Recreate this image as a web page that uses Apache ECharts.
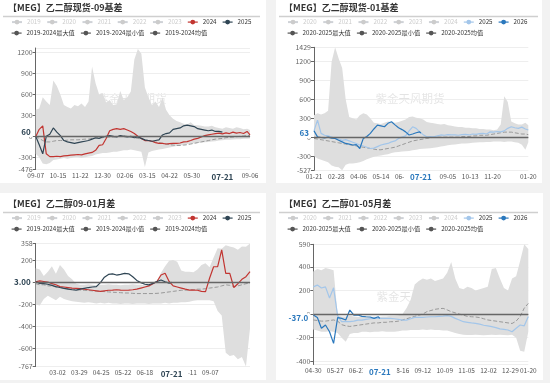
<!DOCTYPE html>
<html><head><meta charset="utf-8">
<script src="https://cdn.jsdelivr.net/npm/echarts@6.0.0/dist/echarts.min.js"></script>
<style>
html,body{margin:0;padding:0;background:#f2f2f2;width:550px;height:383px;overflow:hidden}
.p{position:absolute;background:#fff}
</style></head><body>
<div id="c1" class="p" style="left:0;top:-3px;width:266px;height:186px"></div>
<div id="c2" class="p" style="left:276px;top:-3px;width:266px;height:186px"></div>
<div id="c3" class="p" style="left:0;top:193px;width:266px;height:187px"></div>
<div id="c4" class="p" style="left:276px;top:193px;width:267px;height:187px"></div>
<script>
// ---------- DATA ----------
// Panel 1: 乙二醇现货-09基差 (step 6 days from 09-07)
const tlTitle = '【MEG】乙二醇现货-09基差';
const tlYears = ['2019','2020','2021','2022','2023','2024','2025'];
const tlStats = ['2019-2024最大值','2019-2024最小值','2019-2024均值'];
const tlXLabels = ['09-07','10-15','11-22','12-30','02-06','03-15','04-22','05-30','09-06'];
const tlMax = [380,400,560,500,450,800,720,600,450,420,400,450,430,470,420,500,1000,760,600,620,480,520,450,460,650,520,560,640,1100,1250,1180,700,560,450,500,420,560,380,300,250,220,200,180,170,200,160,160,150,140,140,150,130,120,110,130,120,110,130,120,100,110,90];
const tlMin = [-250,-300,-390,-400,-380,-340,-330,-320,-310,-320,-310,-300,-300,-310,-300,-290,-280,-260,-250,-240,-240,-230,-220,-220,-210,-200,-200,-190,-200,-210,-220,-440,-230,-210,-200,-190,-180,-170,-160,-150,-140,-130,-120,-110,-105,-100,-95,-90,-85,-80,-75,-70,-60,-55,-50,-50,-45,-40,-40,-35,-35,-30];
const tlMean = [0,-30,-60,-80,-80,-70,-60,-60,-60,-55,-50,-50,-50,-45,-40,-40,-30,-30,-20,-20,-10,-10,-10,0,0,10,0,-10,-20,-30,-40,-50,-60,-70,-80,-90,-100,-110,-120,-125,-130,-130,-125,-120,-110,-100,-90,-80,-70,-60,-50,-40,-35,-30,-20,-15,-10,-5,0,5,10,10];
const tl2024 = [-5,100,150,-250,-290,-290,-285,-290,-280,-275,-270,-265,-260,-265,-250,-240,-230,-200,-130,-120,-30,80,100,110,100,110,90,70,40,0,-30,-60,-60,-70,-90,-100,-100,-110,-105,-100,-100,-95,-80,-75,-60,-40,-30,-10,10,20,30,40,45,35,50,40,60,45,55,40,70,20];
const tl2025 = [0,-120,-250,0,30,120,60,10,-60,-80,-90,-100,-90,-80,-70,-60,-40,-20,-30,-10,0,10,0,-10,10,0,-10,0,-20,-10,-30,-50,-60,-70,-60,-50,20,40,50,100,110,120,150,160,150,140,110,100,90,80,90,70,70,60];

// Panel 2: 乙二醇现货-01基差 (step 6 days from 01-21)
const trTitle = '【MEG】乙二醇现货-01基差';
const trYears = ['2020','2021','2022','2023','2024','2025','2026'];
const trStats = ['2020-2025最大值','2020-2025最小值','2020-2025均值'];
const trXLabels = ['01-21','02-28','04-06','05-14','06-21','09-05','10-13','11-20','01-20'];
const trMax = [350,380,360,380,420,1200,1429,1250,1100,600,320,300,280,350,380,360,300,230,220,210,230,250,240,230,240,260,280,320,330,310,300,280,240,230,220,210,200,210,190,180,170,160,160,150,150,140,140,130,130,120,120,110,120,200,650,560,250,220,200,200,230,190];
const trMin = [-300,-340,-360,-380,-400,-450,-470,-480,-527,-440,-420,-420,-410,-400,-380,-350,-330,-310,-300,-290,-280,-270,-250,-240,-235,-230,-225,-220,-210,-200,-190,-185,-180,-175,-170,-160,-150,-140,-130,-120,-115,-110,-100,-100,-95,-90,-85,-80,-80,-75,-75,-70,-70,-70,-75,-70,-70,-80,-90,-120,-200,-80];
const trMean = [-20,-30,-40,-50,-60,-70,-80,-90,-100,-110,-120,-130,-140,-150,-160,-170,-180,-190,-200,-200,-190,-180,-170,-160,-140,-120,-100,-80,-60,-50,-40,-30,-20,-10,0,0,0,0,0,0,0,0,10,10,10,20,20,30,30,30,40,50,60,70,80,80,80,70,60,50,50,40];
const tr2025 = [100,270,60,30,20,0,-20,-30,-50,-40,-60,-80,-100,-125,-140,-160,-180,-175,-150,-125,-110,-100,-75,-60,-20,0,20,100,165,140,84,40,5,10,5,20,35,30,40,35,35,30,40,45,35,50,45,55,60,50,84,80,90,84,100,140,165,150,140,160,130,113];
const tr2026 = [100,5,-5,-10,0,-15,-20,-50,-75,-100,-110,-125,-120,-180,-20,10,60,130,190,180,165,220,245,195,150,120,84,35,50,70,84,63];

// Panel 3: 乙二醇09-01月差 (step 5 days from 02-03)
const blTitle = '【MEG】乙二醇09-01月差';
const blYears = ['2019','2020','2021','2022','2023','2024','2025'];
const blStats = ['2019-2024最大值','2019-2024最小值','2019-2024均值'];
const blXLabels = ['03-02','03-29','04-25','05-22','06-18','08-11','09-07'];
const blMax = [130,120,60,100,150,80,160,120,60,30,-10,-20,-20,-15,-20,-25,-20,-20,-15,-20,-20,-25,-20,-20,-15,-20,-20,-25,-20,0,20,90,150,200,206,190,110,100,100,95,120,160,176,140,230,313,310,340,330,320,300,330,328,358];
const blMin = [-200,-210,-150,-120,-140,-160,-130,-150,-160,-170,-175,-180,-185,-180,-185,-190,-185,-190,-185,-190,-190,-195,-190,-190,-195,-190,-190,-190,-195,-190,-190,-190,-185,-190,-185,-185,-180,-180,-175,-165,-160,-160,-160,-160,-170,-260,-300,-640,-670,-660,-700,-680,-767,-420];
const blMean = [-10,-20,-20,-30,-30,-40,-45,-50,-55,-60,-65,-68,-70,-72,-75,-78,-80,-82,-85,-88,-90,-92,-95,-95,-98,-100,-100,-100,-100,-100,-98,-95,-90,-85,-80,-75,-70,-70,-65,-65,-60,-60,-55,-50,-45,-40,-30,-20,-25,-35,-30,-20,-10,-5];
const bl2024 = [8,15,10,5,-10,-20,-37,-40,-45,-50,-52,-55,-60,-65,-70,-75,-80,-75,-70,-68,-65,-68,-70,-68,-65,-60,-50,-40,-30,-10,10,69,85,10,-30,-40,-50,-60,-68,-68,-70,-80,-83,40,145,145,298,85,85,-45,-10,30,54,100];
const bl2025 = [8,-7,-10,-15,-25,-37,-45,-52,-60,-65,-68,-60,-52,-45,-40,-37,0,50,75,80,69,75,85,80,54,20,0,-15,-20,-7,10,24,8,-5,3];

// Panel 4: 乙二醇01-05月差 (step 5 days from 04-30)
const brTitle = '【MEG】乙二醇01-05月差';
const brYears = ['2020','2021','2022','2023','2024','2025','2026'];
const brStats = ['2020-2025最大值','2020-2025最小值','2020-2025均值'];
const brXLabels = ['04-30','05-27','06-23','08-16','09-12','10-09','11-05','12-02','12-29','01-20'];
const brMax = [360,380,370,390,380,370,-10,-20,-20,-15,-20,-25,-20,-20,-25,-20,-25,-20,-20,-15,-15,-10,0,50,120,250,280,300,290,300,280,290,300,350,440,300,220,210,230,220,200,210,220,230,380,390,300,220,200,300,320,450,590,550];
const brMin = [-130,-140,-150,-150,-145,-150,-160,-200,-234,-170,-160,-160,-150,-150,-155,-150,-150,-145,-150,-150,-150,-145,-140,-140,-135,-135,-135,-130,-135,-130,-135,-135,-140,-140,-150,-160,-170,-175,-178,-178,-175,-178,-180,-178,-175,-178,-175,-178,-180,-175,-200,-310,-320,-150];
const brMean = [-50,-55,-60,-60,-55,-50,-60,-90,-100,-105,-100,-95,-90,-85,-80,-75,-75,-70,-70,-65,-65,-60,-50,-40,-30,-20,-10,0,20,30,40,45,48,35,20,10,0,-10,-20,-23,-25,-30,-40,-50,-55,-60,-65,-70,-75,-80,-60,-20,50,90];
const br2025 = [230,245,220,230,135,222,-15,-65,-65,-65,-60,-51,-51,-45,-40,-37,-37,-37,-37,-37,-40,-45,-51,-51,-40,-28,-28,-28,-25,-23,-23,-20,-18,-14,-20,-37,-50,-65,-70,-75,-79,-85,-95,-100,-107,-115,-125,-130,-135,-150,-120,-93,-100,-20];
const br2026 = [-8,-30,-121,-93,-150,-248,-30,-37,-51,34,-10,-8,-20,-23,-25,-37,-23,-37];

const todayLabel = '07-21';
const currentLabels = ['60','63','3.00','-37.0'];

// ---------- HELPERS ----------
const FONT = '"Noto Sans CJK SC","Noto Sans",sans-serif';
function dayList(startISO, n){
  const out=[]; const d=new Date(startISO+'T00:00:00Z');
  for(let i=0;i<n;i++){ out.push(String(d.getUTCMonth()+1).padStart(2,'0')+'-'+String(d.getUTCDate()).padStart(2,'0')); d.setUTCDate(d.getUTCDate()+1);}
  return out;
}
function pairs(vals, step, last){ return vals.map((v,i)=>[Math.min(i*step,last), v]); }

function build(el, c){
  const chart = echarts.init(document.getElementById(el), null, {renderer:'canvas'});
  const n = c.dates.length, last = n-1;
  const lblSet = new Set(c.xLabels);
  const stepPairs = v => pairs(v, c.step, last);
  const series = [];
  c.years.forEach(y=>{
    const s = c.lines.find(l=>l.name===y);
    if(!s){ series.push({name:y,type:'line',data:[],symbol:'circle',showSymbol:false,itemStyle:{color:'#ccc'},lineStyle:{color:'#ccc'}}); }
  });
  series.push({name:c.stats[1],type:'line',data:stepPairs(c.min),stack:'band',stackStrategy:'all',symbol:'circle',showSymbol:false,
    lineStyle:{width:0,opacity:0},itemStyle:{color:'#555'},silent:true,z:1});
  series.push({name:c.stats[0],type:'line',data:stepPairs(c.max.map((v,i)=>v-c.min[i])),stack:'band',stackStrategy:'all',symbol:'circle',showSymbol:false,
    lineStyle:{width:0,opacity:0},areaStyle:{color:'#dedede',opacity:1},itemStyle:{color:'#555'},silent:true,z:1,
    markLine:{silent:true,symbol:'none',animation:false,data:[{yAxis:0,lineStyle:{color:'#666',width:1.4,type:'solid'},label:{show:false}}]}});
  series.push({name:c.stats[2],type:'line',data:stepPairs(c.mean),symbol:'circle',showSymbol:false,
    lineStyle:{width:1,type:'dashed',color:'#999'},itemStyle:{color:'#555'},silent:true,z:2});
  c.lines.forEach((l,idx)=>{
    const s = {name:l.name,type:'line',data:pairs(l.vals,c.step,l.end),symbol:'circle',showSymbol:false,
      lineStyle:{width:1.2,color:l.color},itemStyle:{color:l.color},silent:true,z:3+idx};
    if(l.mark){
      s.markLine = {silent:true,symbol:'none',animation:false,
        lineStyle:{color:'rgba(255,255,255,0)',width:1,type:'solid'},
        data:[
        {yAxis:l.vals[l.vals.length-1],
         label:{show:true,position:'start',distance:3,formatter:c.curLabel,color:c.hl,fontWeight:'bold',fontSize:8,fontFamily:FONT,backgroundColor:'#fff',padding:[1,2]}},
        {xAxis:todayLabel,
         label:{show:true,position:'start',distance:2,formatter:todayLabel,color:c.hl,fontWeight:'bold',fontSize:8,fontFamily:FONT,backgroundColor:'#fff',padding:[1,6]}}
      ]};
    }
    series.push(s);
  });
  const selected = {};
  c.years.forEach(y=>{ selected[y] = !!c.lines.find(l=>l.name===y); });
  const lgBase = {left:11,itemWidth:10,itemHeight:6,itemGap:5.5,padding:0,inactiveColor:'#ccc',
    textStyle:{fontSize:6.2,color:'#333',fontFamily:FONT}};
  chart.setOption({
    animation:false,
    title:{text:c.title,left:8,top:6,padding:0,textStyle:{fontSize:9,fontWeight:'bold',color:'#333',fontFamily:FONT}},
    legend:[
      Object.assign({},lgBase,{top:22,data:c.years,selected:selected,lineStyle:{width:1.2}}),
      Object.assign({},lgBase,{top:33,data:c.stats,lineStyle:{color:'#555',width:1.2,type:'solid',opacity:1},itemStyle:{color:'#555'}})
    ],
    graphic:[
      {type:'line',shape:{x1:3,y1:19.5,x2:c.sepEnd,y2:19.5},style:{stroke:'#cfcfcf',lineWidth:1.5},silent:true},
      {type:'text',x:c.wm[0],y:c.wm[1],silent:true,z:0,style:{text:'紫金天风期货',fontSize:11.5,fontFamily:FONT,fill:'rgba(0,0,0,0.11)',textAlign:'center',verticalAlign:'middle',textVerticalAlign:'middle'}}
    ],
    grid:Object.assign({containLabel:false,outerBoundsMode:'none'},c.grid),
    xAxis:{type:'category',data:c.dates,boundaryGap:false,
      axisLine:{show:true,lineStyle:{color:'#ddd'}},axisTick:{show:false},splitLine:{show:false},
      axisLabel:{interval:(i,v)=>lblSet.has(v),fontSize:6.5,color:'#555',margin:3,fontFamily:FONT}},
    yAxis:{type:'value',min:c.yMin,max:c.yMax,scale:false,
      axisLine:{show:true,lineStyle:{color:'#666'}},axisTick:{show:true,length:3,lineStyle:{color:'#666'}},
      splitLine:{show:true,lineStyle:{color:'#eee'}},
      axisLabel:{fontSize:7,color:'#666',margin:3,fontFamily:FONT,showMaxLabel:c.showMax,showMinLabel:c.showMin,
        formatter:v=>String(Math.round(v))}},
    series:series
  });
}

build('c1',{title:tlTitle,years:tlYears,stats:tlStats,xLabels:tlXLabels,dates:dayList('2023-09-07',366),step:6,
  max:tlMax,min:tlMin,mean:tlMean,
  lines:[{name:'2024',vals:tl2024,color:'#c23531',end:365},{name:'2025',vals:tl2025,color:'#2f4554',end:318,mark:true}],
  curLabel:currentLabels[0],hl:'#2f4554',yMin:-476,yMax:1264,showMax:false,showMin:true,
  grid:{left:35.7,right:16,top:51,bottom:13.4},sepEnd:260,wm:[132,102]});
build('c2',{title:trTitle,years:trYears,stats:trStats,xLabels:trXLabels,dates:dayList('2024-01-21',366),step:6,
  max:trMax,min:trMin,mean:trMean,
  lines:[{name:'2025',vals:tr2025,color:'#a3c6ea',end:365},{name:'2026',vals:tr2026,color:'#2a78bd',end:182,mark:true}],
  curLabel:currentLabels[1],hl:'#2a78bd',yMin:-527,yMax:1429,showMax:true,showMin:true,
  grid:{left:38,right:13.7,top:50.3,bottom:12.7},sepEnd:262,wm:[134,102]});
build('c3',{title:blTitle,years:blYears,stats:blStats,xLabels:blXLabels,dates:dayList('2025-02-03',266),step:5,
  max:blMax,min:blMin,mean:blMean,
  lines:[{name:'2024',vals:bl2024,color:'#c23531',end:265},{name:'2025',vals:bl2025,color:'#2f4554',end:168,mark:true}],
  curLabel:currentLabels[2],hl:'#2f4554',yMin:-767,yMax:358,showMax:true,showMin:true,
  grid:{left:35.7,right:16,top:50.4,bottom:13.4},sepEnd:260,wm:[133,104]});
build('c4',{title:brTitle,years:brYears,stats:brStats,xLabels:brXLabels,dates:dayList('2025-04-30',266),step:5,
  max:brMax,min:brMin,mean:brMean,
  lines:[{name:'2025',vals:br2025,color:'#a3c6ea',end:265},{name:'2026',vals:br2026,color:'#2a78bd',end:82,mark:true}],
  curLabel:currentLabels[3],hl:'#2a78bd',yMin:-427,yMax:590,showMax:true,showMin:false,
  grid:{left:37.3,right:14.7,top:51.3,bottom:15.5},sepEnd:262,wm:[135,104]});
</script>
</body></html>
